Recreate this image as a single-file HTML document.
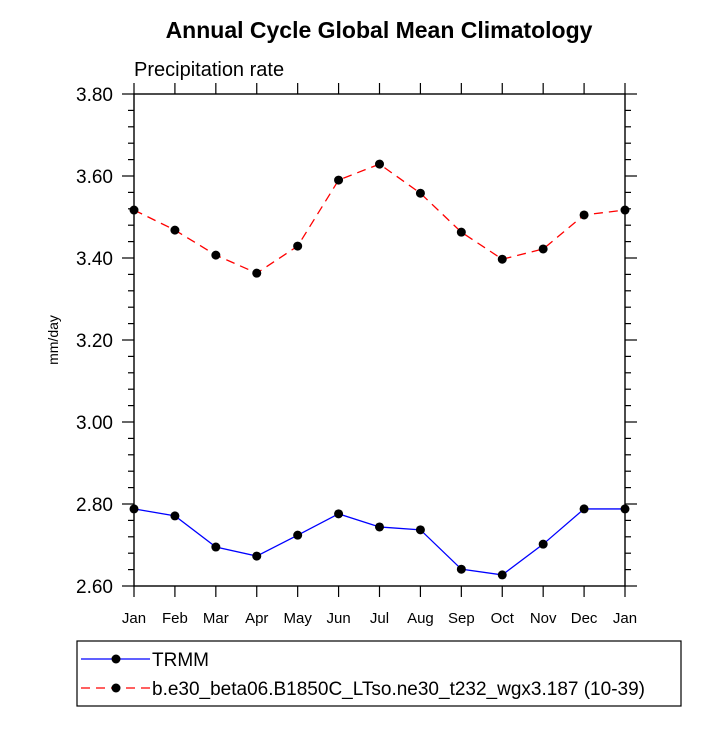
<!DOCTYPE html>
<html><head><meta charset="utf-8"><style>
body{margin:0;background:#fff}
svg text{font-family:"Liberation Sans",Arial,sans-serif}
</style></head><body>
<svg id="chart" width="727" height="727" viewBox="0 0 727 727" xmlns="http://www.w3.org/2000/svg">
<text x="379" y="38" text-anchor="middle" font-size="23" font-weight="bold">Annual Cycle Global Mean Climatology</text>
<text x="134" y="76" font-size="20">Precipitation rate</text>
<text transform="translate(58,340) rotate(-90)" text-anchor="middle" font-size="14">mm/day</text>
<g id="axes"></g>
<g id="series"></g>
<rect x="77" y="641" width="604" height="65" fill="none" stroke="#000" stroke-width="1.2"/>
<g>
<line x1="81" y1="659" x2="150" y2="659" stroke="#0000ff" stroke-width="1.3"/>
<circle cx="116" cy="659" r="4.5" fill="#000"/>
<text x="152" y="666" font-size="19">TRMM</text>
</g>
<g>
<line x1="81" y1="688" x2="150" y2="688" stroke="#ff0000" stroke-width="1.3" stroke-dasharray="9,6"/>
<circle cx="116" cy="688" r="4.5" fill="#000"/>
<text x="152" y="695" font-size="19">b.e30_beta06.B1850C_LTso.ne30_t232_wgx3.187 (10-39)</text>
</g>
</svg>
<script>
const months=["Jan","Feb","Mar","Apr","May","Jun","Jul","Aug","Sep","Oct","Nov","Dec","Jan"];
const trmm=[2.788,2.771,2.695,2.673,2.724,2.776,2.744,2.737,2.641,2.627,2.702,2.788,2.788];
const model=[3.517,3.468,3.407,3.363,3.429,3.590,3.629,3.558,3.463,3.397,3.422,3.505,3.517];
const yTicks=["2.60","2.80","3.00","3.20","3.40","3.60","3.80"];
const L=134,R=625,T=94,B=586,Y0=2.6,Y1=3.8;
const NS="http://www.w3.org/2000/svg";
const xs=i=>L+(R-L)*i/(months.length-1);
const ys=v=>B-(v-Y0)/(Y1-Y0)*(B-T);
const ax=document.getElementById('axes'),se=document.getElementById('series');
function mk(t,a,p){const e=document.createElementNS(NS,t);for(const k in a)e.setAttribute(k,a[k]);p.appendChild(e);return e;}
const fr=mk('rect',{x:L,y:T,width:R-L,height:B-T,fill:'none',stroke:'#000','stroke-width':1.4},ax);


months.forEach((m,i)=>{const x=xs(i);
mk('line',{x1:x,y1:B,x2:x,y2:B+11,stroke:'#000','stroke-width':1.2},ax);
mk('line',{x1:x,y1:T,x2:x,y2:T-11,stroke:'#000','stroke-width':1.2},ax);
const t=mk('text',{x:x,y:B+37,'text-anchor':'middle','font-size':15},ax);t.textContent=m;

});
for(let k=0;k<=30;k++){const v=Y0+k*0.04,y=ys(v),maj=k%5==0,len=maj?12:6;
mk('line',{x1:L,y1:y,x2:L-len,y2:y,stroke:'#000','stroke-width':1.2},ax);
mk('line',{x1:R,y1:y,x2:R+len,y2:y,stroke:'#000','stroke-width':1.2},ax);}
yTicks.forEach(s=>{const t=mk('text',{x:113,y:ys(parseFloat(s))+7,'text-anchor':'end','font-size':19},ax);t.textContent=s;

});
function draw(d,c,dash,name){const g=mk('g',{},se);


const a={points:d.map((v,i)=>xs(i)+','+ys(v)).join(' '),fill:'none',stroke:c,'stroke-width':1.3};if(dash)a['stroke-dasharray']=dash;
mk('polyline',a,g);
d.forEach((v,i)=>{const p=mk('circle',{cx:xs(i),cy:ys(v),r:4.5,fill:'#000'},g);

});}
draw(trmm,'#0000ff',null,'trmm-series');
draw(model,'#ff0000','9,6','model-series');
</script>
</body></html>
